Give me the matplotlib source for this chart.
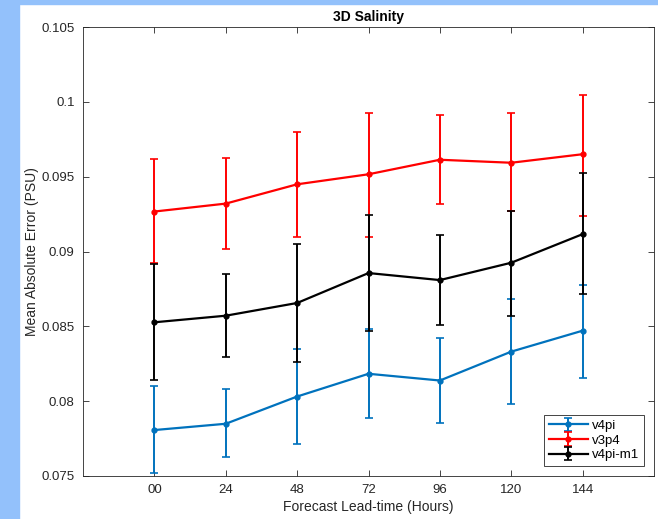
import numpy as np
import matplotlib.pyplot as plt
from matplotlib.patches import Rectangle

plt.rcParams['font.family'] = ['Liberation Sans', 'DejaVu Sans']

#%% DATA

lead = [1, 2, 3, 4, 5, 6, 7]
lead_labels = ['00', '24', '48', '72', '96', '120', '144']

# v4pi
v4pi_mean = [0.07807, 0.07849, 0.08031, 0.08183, 0.08138, 0.08331, 0.08471]
v4pi_lo = [0.07523, 0.07627, 0.07716, 0.07887, 0.07851, 0.07983, 0.08158]
v4pi_hi = [0.08098, 0.08078, 0.08349, 0.08479, 0.08420, 0.08683, 0.08778]

# v3p4
v3p4_mean = [0.09267, 0.09320, 0.09449, 0.09516, 0.09613, 0.09593, 0.09650]
v3p4_lo = [0.08920, 0.09016, 0.09098, 0.09100, 0.09316, 0.09271, 0.09238]
v3p4_hi = [0.09616, 0.09623, 0.09798, 0.09925, 0.09911, 0.09925, 0.10045]

# v4pi-m1
m1_mean = [0.08527, 0.08571, 0.08656, 0.08856, 0.08809, 0.08925, 0.09116]
m1_lo = [0.08143, 0.08293, 0.08265, 0.08471, 0.08511, 0.08571, 0.08716]
m1_hi = [0.08916, 0.08847, 0.09053, 0.09243, 0.09110, 0.09271, 0.09523]

series = [
    ('v4pi', v4pi_mean, v4pi_lo, v4pi_hi, '#0072BD'),
    ('v3p4', v3p4_mean, v3p4_lo, v3p4_hi, '#FF0000'),
    ('v4pi-m1', m1_mean, m1_lo, m1_hi, '#000000'),
]

#%% PLOT

fig = plt.figure(figsize=(6.58, 5.19), dpi=100)
fig.patch.set_facecolor('white')

# light blue frame on the left and top of the screenshot
fig.patches.append(Rectangle((0, 0), 19/658, 1, transform=fig.transFigure,
                             color='#93c1fb', zorder=-10))
fig.patches.append(Rectangle((0, 1 - 4/519), 1, 4/519, transform=fig.transFigure,
                             color='#93c1fb', zorder=-10))

ax = fig.add_axes([83/658, 43/519, 571/658, 449/519])

for name, mean, lo, hi, col in series:
    mean = np.array(mean)
    yerr = [mean - np.array(lo), np.array(hi) - mean]
    ax.errorbar(lead, mean, yerr=yerr, color=col, lw=1.6, elinewidth=1.4,
                capsize=3, capthick=1.2, marker='o', ms=3.5, label=name)

ax.set_xlim(0, 8)
ax.set_ylim(0.075, 0.105)
ax.set_xticks(lead)
ax.set_xticklabels(lead_labels)
ax.set_yticks([0.075, 0.08, 0.085, 0.09, 0.095, 0.1, 0.105])
ax.set_yticklabels(['0.075', '0.08', '0.085', '0.09', '0.095', '0.1', '0.105'])

for s in ax.spines.values():
    s.set_color('#262626')
    s.set_linewidth(0.6)
ax.tick_params(direction='in', length=4, width=0.6, colors='#262626',
               top=True, right=True, labelsize=9.5, pad=6)

ax.set_xlabel('Forecast Lead-time (Hours)', fontsize=10, color='#262626', labelpad=3)
ax.set_ylabel('Mean Absolute Error (PSU)', fontsize=10, color='#262626', labelpad=2)
ax.set_title('3D Salinity', fontsize=10, fontweight='bold', pad=4)

leg = ax.legend(loc='lower right', fontsize=9.5, fancybox=False, framealpha=1,
                edgecolor='#262626', borderpad=0.35, handlelength=3.0,
                labelspacing=0.2, handletextpad=0.3, borderaxespad=0.75)
leg.get_frame().set_linewidth(0.6)

fig.savefig('out.png', dpi=100)
